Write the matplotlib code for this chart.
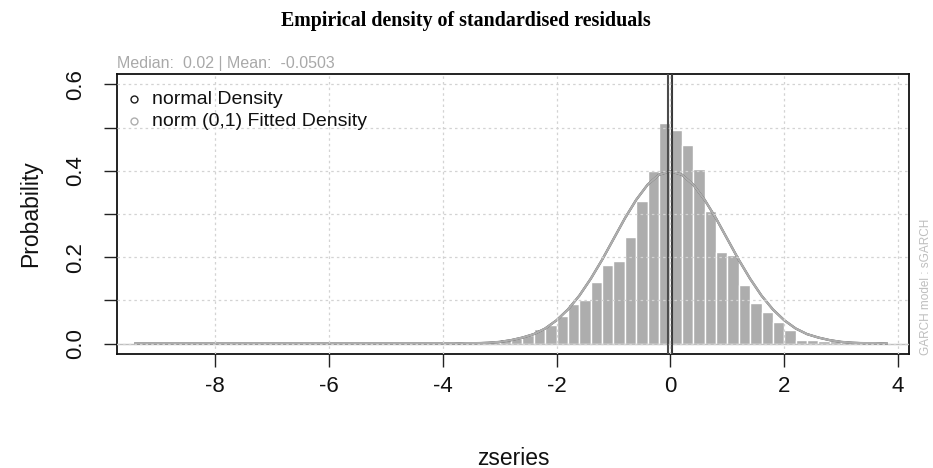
import numpy as np
import matplotlib
matplotlib.use("Agg")
import matplotlib.pyplot as plt

# Histogram of standardised residuals (probability scale, bin width 0.2)
bin_left = [-9.4, -3.8, -3.6, -3.4, -3.2, -3.0, -2.8, -2.6, -2.4, -2.2, -2.0,
            -1.8, -1.6, -1.4, -1.2, -1.0, -0.8, -0.6, -0.4, -0.2, 0.0,
            0.2, 0.4, 0.6, 0.8, 1.0, 1.2, 1.4, 1.6, 1.8, 2.0,
            2.2, 2.4, 2.6, 2.8, 3.0, 3.2, 3.4, 3.6]
density = [0.002, 0.003, 0.006, 0.006, 0.007, 0.010, 0.014, 0.019, 0.034, 0.044, 0.064,
           0.091, 0.100, 0.143, 0.181, 0.191, 0.247, 0.330, 0.399, 0.510, 0.495,
           0.459, 0.403, 0.306, 0.211, 0.205, 0.136, 0.094, 0.074, 0.049, 0.032,
           0.008, 0.008, 0.005, 0.005, 0.003, 0.003, 0.002, 0.002]
bin_width = 0.2

# Density curves evaluated at the histogram breaks
curve_x = [-9.4, -4.0, -3.8, -3.6, -3.4, -3.2, -3.0, -2.8, -2.6, -2.4, -2.2, -2.0,
           -1.8, -1.6, -1.4, -1.2, -1.0, -0.8, -0.6, -0.4, -0.2, 0.0,
           0.2, 0.4, 0.6, 0.8, 1.0, 1.2, 1.4, 1.6, 1.8, 2.0,
           2.2, 2.4, 2.6, 2.8, 3.0, 3.2, 3.4, 3.6, 3.8]
normal_y = [0.0, 0.000, 0.000, 0.001, 0.001, 0.002, 0.004, 0.008, 0.014, 0.022, 0.035, 0.054,
            0.079, 0.111, 0.150, 0.194, 0.242, 0.290, 0.333, 0.368, 0.391, 0.399,
            0.391, 0.368, 0.333, 0.290, 0.242, 0.194, 0.150, 0.111, 0.079, 0.054,
            0.035, 0.022, 0.014, 0.008, 0.004, 0.002, 0.001, 0.001, 0.000]
fitted_y = list(normal_y)

x_median = 0.02
x_mean = -0.0503

x_ticks = [-8, -6, -4, -2, 0, 2, 4]
y_ticks = [0.0, 0.1, 0.2, 0.3, 0.4, 0.5, 0.6]
y_labels = ["0.0", "", "0.2", "", "0.4", "", "0.6"]

sans = ["Liberation Sans", "DejaVu Sans"]
serif = ["Liberation Serif", "DejaVu Serif"]
plt.rcParams["font.family"] = sans

fig = plt.figure(figsize=(9.33, 4.68), dpi=100)
ax = fig.add_axes([117 / 933, 1 - 354 / 468, (909 - 117) / 933, (354 - 74) / 468])

ax.bar(bin_left, density, width=bin_width, align="edge", color="#ADADAD",
       edgecolor="white", linewidth=1.0, zorder=2)

ax.axhline(0, color="#BEBEBE", linewidth=1.0, zorder=3)
ax.plot(curve_x, normal_y, color="#1D1D1D", linewidth=1.5, zorder=4)
ax.plot(curve_x, fitted_y, color="#ADADAD", linewidth=1.7, zorder=5)
ax.axvline(x_mean, color="#4C4C4C", linewidth=1.5, zorder=6)
ax.axvline(x_median, color="#3B3B3B", linewidth=1.5, zorder=6)

# dotted reference grid drawn over the marks
for xv in x_ticks:
    ax.axvline(xv, color="#D3D3D3", linewidth=0.9, linestyle=(0, (2, 2.5)), zorder=7)
for yv in y_ticks:
    ax.axhline(yv, color="#D3D3D3", linewidth=0.9, linestyle=(0, (2, 2.5)), zorder=7)

ax.set_xlim(-9.72, 4.19)
ax.set_ylim(-0.024, 0.624)
ax.set_xticks(x_ticks)
ax.set_xticklabels([str(v) for v in x_ticks])
ax.set_yticks(y_ticks)
ax.set_yticklabels(y_labels, rotation=90, va="center")
ax.tick_params(axis="both", direction="out", length=9.5, width=1.0,
               color="#222222", labelsize=16, labelcolor="#111111")
ax.tick_params(axis="x", pad=6)
ax.tick_params(axis="y", pad=13)
for sp in ax.spines.values():
    sp.set_linewidth(1.3)
    sp.set_color("#111111")

ax.set_xlabel("zseries", fontsize=16.5, labelpad=36, color="#111111")
ax.set_ylabel("Probability", fontsize=16.5, labelpad=16, color="#111111")

fig.text(466 / 933, 1 - 21 / 468, "Empirical density of standardised residuals",
         family=serif, fontweight="bold", fontsize=14.4, ha="center", va="center")

ax.text(0.0, 1.012, "Median:  0.02 | Mean:  -0.0503", transform=ax.transAxes,
        color="#A9A9A9", fontsize=11.5, ha="left", va="bottom")

fig.text(926 / 933, 1 - 355 / 468, "GARCH model : sGARCH", color="#BEBEBE",
         fontsize=8.5, rotation=90, ha="center", va="bottom")

# legend
leg_rows = [("normal Density", "#1D1D1D"), ("norm (0,1) Fitted Density", "#ADADAD")]
for i, (txt, col) in enumerate(leg_rows):
    yy = 1 - (99 + 22 * i - 74) / 280
    ax.plot([0.021], [yy], marker="o", markersize=5, markerfacecolor="none",
            markeredgecolor=col, markeredgewidth=1.0, transform=ax.transAxes,
            clip_on=False, zorder=9)
    ax.text(0.044, yy, txt, transform=ax.transAxes, fontsize=14,
            ha="left", va="center", color="#111111", zorder=9)

fig.savefig("out.png", dpi=100, facecolor="white")
